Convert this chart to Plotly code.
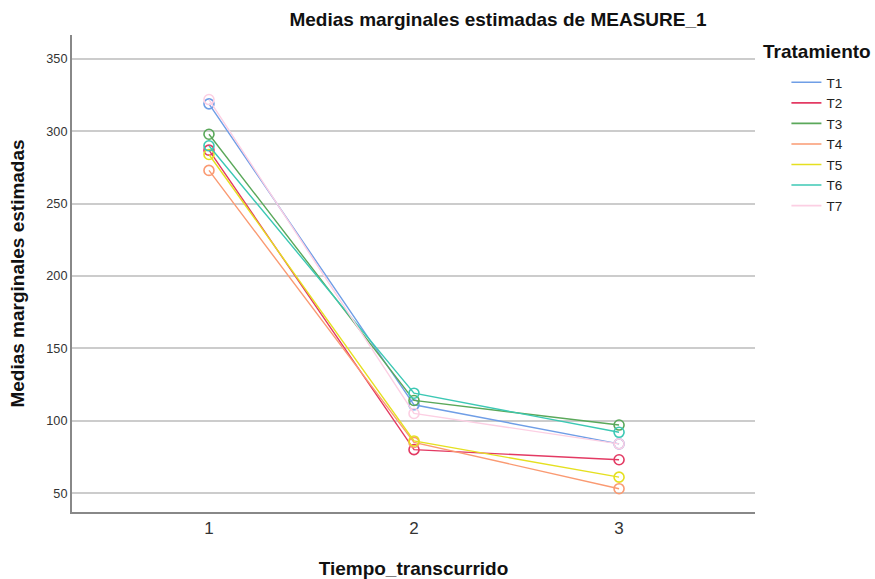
import plotly.graph_objects as go

tiempos = [1, 2, 3]
tratamientos = ["T1", "T2", "T3", "T4", "T5", "T6", "T7"]
T1 = [319, 111, 84]
T2 = [287, 80, 73]
T3 = [298, 114, 97]
T4 = [273, 85, 53]
T5 = [284, 86, 61]
T6 = [290, 119, 92]
T7 = [322, 105, 84]
series = [T1, T2, T3, T4, T5, T6, T7]
colores = ["#6f9ee6", "#e33a63", "#5aa85a", "#fa9a72", "#e5e020", "#3cc8b4", "#fccfe3"]
y_ticks = [50, 100, 150, 200, 250, 300, 350]

FONT = "Liberation Sans, Arial, sans-serif"

fig = go.Figure()
for name, vals, col in zip(tratamientos, series, colores):
    fig.add_trace(go.Scatter(
        x=tiempos, y=vals, mode="lines+markers", name=name,
        line=dict(color=col, width=1.4),
        marker=dict(symbol="circle-open", size=10, color=col, line=dict(width=1.6, color=col)),
        showlegend=False, cliponaxis=False,
    ))
for name, col in zip(tratamientos, colores):
    fig.add_trace(go.Scatter(
        x=[None], y=[None], mode="lines", name=name,
        line=dict(color=col, width=1.6), showlegend=True,
    ))

fig.update_layout(
    width=875, height=579,
    margin=dict(l=72, r=120, t=35, b=67, autoexpand=False),
    paper_bgcolor="white", plot_bgcolor="white",
    font=dict(family=FONT, color="#222222"),
    title=dict(text="<b>Medias marginales estimadas de MEASURE_1</b>",
               x=498/875, xanchor="center", y=1 - 19/579, yanchor="middle",
               font=dict(size=19, color="#111111")),
    xaxis=dict(range=[0.332, 3.663], tickvals=tiempos, ticktext=[str(t) for t in tiempos],
               showgrid=False, zeroline=False, showline=True, linecolor="#888888", linewidth=2,
               ticks="", tickfont=dict(size=17, color="#333333"), automargin=False,
               title=dict(text="<b>Tiempo_transcurrido</b>", font=dict(size=19, color="#111111"), standoff=24)),
    yaxis=dict(range=[36.9, 366.6], tickvals=y_ticks, showgrid=True, gridcolor="#cccccc", gridwidth=1.5,
               zeroline=False, showline=True, linecolor="#888888", linewidth=2, automargin=False,
               ticks="", tickfont=dict(size=12.7, color="#333333"),
               title=dict(text="<b>Medias marginales estimadas</b>", font=dict(size=19, color="#111111"), standoff=17)),
    legend=dict(x=1.046, xanchor="left", y=1 - (67 - 35) / 477, yanchor="top",
                font=dict(size=13.5, color="#222222"), tracegroupgap=0, itemwidth=30,
                bgcolor="rgba(0,0,0,0)"),
    annotations=[dict(text="<b>Tratamiento</b>", xref="paper", yref="paper",
                      x=(761 - 72) / 683, y=1 - (52 - 35) / 477, xanchor="left", yanchor="middle",
                      showarrow=False, font=dict(size=19, color="#111111"))],
)

fig.write_html("out.html", config={"displayModeBar": False},
               post_script="document.body.style.margin='0';")
